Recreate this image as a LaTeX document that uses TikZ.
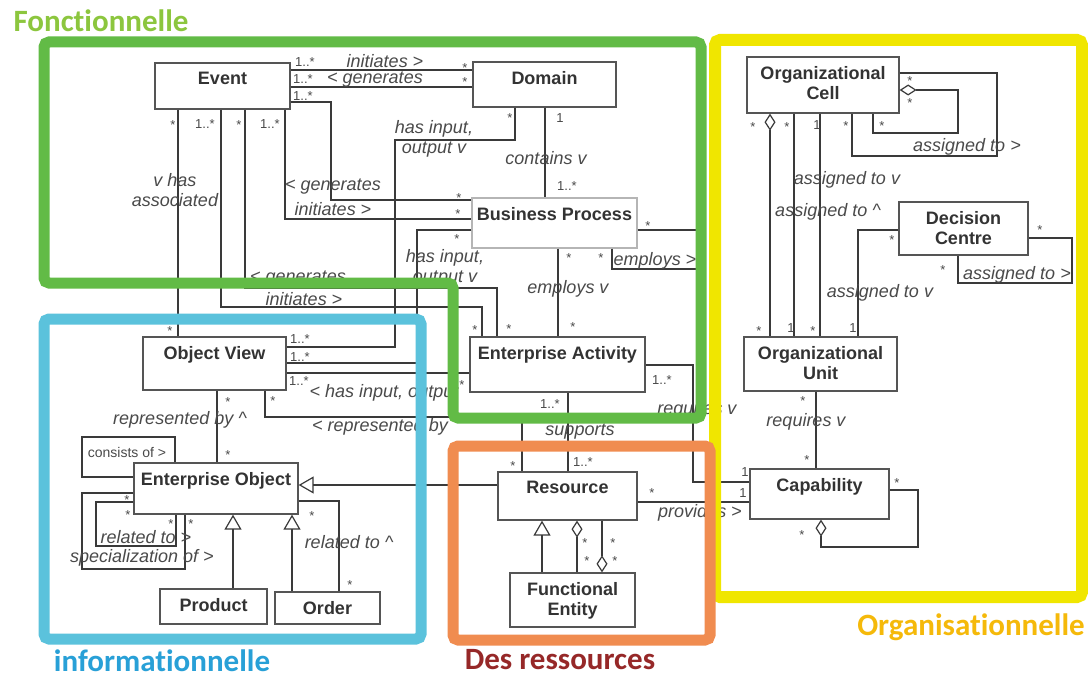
\documentclass[tikz,border=0pt]{standalone}
\usepackage{fontspec}
\setmainfont{Liberation Sans}
\newfontfamily\titlefont{Carlito}[Ligatures=NoCommon]
\usetikzlibrary{arrows.meta}
\definecolor{lc}{HTML}{3A3A3A}
\definecolor{bc}{HTML}{555555}
\definecolor{bcl}{HTML}{B5B5B5}
\definecolor{tc}{HTML}{333333}
\definecolor{ic}{HTML}{4A4A4A}
\definecolor{fgreen}{RGB}{98,187,70}
\definecolor{fblue}{RGB}{91,194,220}
\definecolor{forange}{RGB}{240,140,80}
\definecolor{fyellow}{RGB}{240,230,0}
\definecolor{tgreen}{RGB}{140,198,62}
\definecolor{tblue}{RGB}{40,160,215}
\definecolor{tred}{RGB}{150,40,40}
\definecolor{tyellow}{RGB}{245,185,10}
\newcount\labno
\newcommand\mlt[2]{\global\advance\labno by 1 \node[mult] (m\the\labno) at (#1) {#2};}
\newcommand\mst[1]{\global\advance\labno by 1 \node[mult, yshift=-3pt] (m\the\labno) at (#1) {*};}
\newcommand\lbl[2]{\global\advance\labno by 1 \node[lab] (l\the\labno) at (#1) {#2};}
\newcommand\ubox[5]{\node[box, minimum width=#3pt, minimum height=#4pt, label={[bt]north:#5}] (#1) at (#2) {};}
\begin{document}
\begin{tikzpicture}[x=1pt,y=-1pt,
 box/.style={draw=bc, line width=1.3pt, fill=white, inner sep=0pt, rectangle},
 bt/.style={font=\fontsize{18}{20}\selectfont\bfseries, text=tc, align=center, inner sep=0pt, anchor=north, yshift=-10pt},
 conn/.style={draw=lc, line width=1.2pt},
 lab/.style={font=\fontsize{18}{19.5}\selectfont\itshape, text=ic, inner sep=0pt, align=center},
 mult/.style={font=\fontsize{13}{15}\selectfont, text=ic, inner sep=0pt},
 gen/.style={conn, -{Triangle[open, length=15pt, width=17pt]}},
 agg/.style={conn, -{Diamond[open, length=17pt, width=11pt]}},
 frame/.style={line width=11pt, rounded corners=5pt},
 ttl/.style={font=\titlefont\fontsize{31}{34}\selectfont\bfseries, inner sep=0pt, anchor=base}]
\useasboundingbox[fill=white] (0,0) rectangle (1088,677);

% ---------- boxes
\ubox{event}{222.5,86}{135}{46}{Event}
\ubox{domain}{544.5,84.5}{143}{45}{Domain}
\node[box, draw=bcl, minimum width=165pt, minimum height=50pt, label={[bt]north:Business Process}] (bp) at (554.5,223) {};
\ubox{oc}{823,85}{152}{56}{Organizational\\Cell}
\ubox{dc}{963.5,228.5}{129}{53}{Decision\\Centre}
\ubox{ou}{820.5,364}{153}{54}{Organizational\\Unit}
\ubox{cap}{819.5,494}{139}{50}{Capability}
\ubox{ea}{557.5,364.5}{175}{55}{Enterprise Activity}
\ubox{ov}{214.5,363.5}{143}{53}{Object View}
\ubox{eo}{216,488.5}{164}{51}{Enterprise Object}
\ubox{product}{213.5,606.5}{107}{35}{Product}
\ubox{order}{327.5,608}{105}{32}{Order}
\ubox{resource}{567.5,496}{139}{48}{Resource}
\ubox{fe}{572.5,600}{125}{54}{Functional\\Entity}
\coordinate (bpR1) at (700,230);
\coordinate (bpR2) at (700,269);

% ---------- connectors
\draw[conn] (event.east |- 0,70) -- (domain.west |- 0,70);
\draw[conn] (event.east |- 0,87) -- (domain.west |- 0,87);
\draw[conn] (event.east |- 0,102) -- (331,102) -- (331,200) -- (bp.west |- 0,200);
\draw[conn] (event.south -| 285,0) -- (285,219) -- (bp.west |- 0,219);
\draw[conn] (event.south -| 178,0) -- (ov.north -| 178,0);
\draw[conn] (event.south -| 221,0) -- (221,307) -- (482,307) -- (ea.north -| 482,0);
\draw[conn] (event.south -| 245,0) -- (245,288) -- (497,288) -- (ea.north -| 497,0);
\draw[conn] (domain.south -| 545,0) -- (bp.north -| 545,0);
\draw[conn] (domain.south -| 515,0) -- (515,140) -- (395,140) -- (395,347) -- (ov.east |- 0,347);
\draw[conn] (bp.west |- 0,230) -- (417,230) -- (417,363) -- (ov.east |- 0,363);
\draw[conn] (bp.south -| 558,0) -- (ea.north -| 558,0);
\draw[conn] (bp.east |- 0,230) -- (bpR1);
\draw[conn] (bp.south -| 612,0) -- (612,269) -- (bpR2);
\draw[conn] (ov.east |- 0,373) -- (ea.west |- 0,373);
\draw[conn] (ov.south -| 265,0) -- (265,417) -- (522,417) -- (resource.north -| 522,0);
\draw[conn] (ov.south -| 217,0) -- (eo.north -| 217,0);
\draw[conn] (ea.east |- 0,365) -- (693,365) -- (693,482) -- (cap.west |- 0,482);
\draw[conn] (ea.south -| 568,0) -- (resource.north -| 568,0);
\draw[conn] (resource.east |- 0,502) -- (cap.west |- 0,502);
\draw[gen] (resource.west |- 0,485) -- (eo.east |- 0,485);
\draw[gen] (fe.north -| 542,0) -- (resource.south -| 542,0);
\draw[agg] (fe.north -| 577,0) -- (resource.south -| 577,0);
\draw[agg] (resource.south -| 602,0) -- (fe.north -| 602,0);
\draw[gen] (product.north -| 233,0) -- (eo.south -| 233,0);
\draw[gen] (order.north -| 292,0) -- (eo.south -| 292,0);
\draw[conn] (order.north -| 339,0) -- (339,501) -- (eo.east |- 0,501);
\draw[conn] (eo.north -| 175,0) -- (175,437) -- (82,437) -- (82,477) -- (eo.west |- 0,477);
\draw[conn] (eo.west |- 0,493) -- (82,493) -- (82,569) -- (185,569) -- (eo.south -| 185,0);
\draw[conn] (eo.west |- 0,502) -- (96,502) -- (96,546) -- (176,546) -- (eo.south -| 176,0);
\draw[conn] (oc.east |- 0,73) -- (997,73) -- (997,156) -- (852,156) -- (oc.south -| 852,0);
\draw[agg] (oc.south -| 873,0) -- (873,133) -- (958,133) -- (958,90) -- (oc.east |- 0,90);
\draw[agg] (ou.north -| 770,0) -- (oc.south -| 770,0);
\draw[conn] (oc.south -| 794,0) -- (ou.north -| 794,0);
\draw[conn] (oc.south -| 820,0) -- (ou.north -| 820,0);
\draw[conn] (dc.west |- 0,230) -- (858,230) -- (ou.north -| 858,0);
\draw[conn] (dc.east |- 0,238) -- (1072,238) -- (1072,283) -- (958,283) -- (dc.south -| 958,0);
\draw[conn] (ou.south -| 816,0) -- (cap.north -| 816,0);
\draw[agg] (cap.east |- 0,490) -- (918,490) -- (918,547) -- (821,547) -- (cap.south -| 821,0);

% ---------- association labels
\lbl{385,61}{initiates >}
\lbl{375,80}{< generates}
\lbl{434,139}{has input,\\output v}
\lbl{546,158}{contains v}
\lbl{333,187}{< generates}
\lbl{333,209}{initiates >}
\lbl{445,268}{has input,\\output v}
\lbl{298,279}{< generates}
\lbl{304,299}{initiates >}
\lbl{175,190}{v has\\associated}
\lbl{568,289}{employs v}
\lbl{655,261}{employs >}
\lbl{697,410}{requires v}
\lbl{580,432}{supports}
\lbl{700,513}{provides >}
\lbl{806,422}{requires v}
\lbl{967,147}{assigned to >}
\lbl{847,180}{assigned to v}
\lbl{828,212}{assigned to \textasciicircum}
\lbl{880,293}{assigned to v}
\lbl{1017,275}{assigned to >}
\lbl{384,393}{< has input, output}
\lbl{380,427}{< represented by}
\lbl{180,420}{represented by \textasciicircum}
\lbl{146,537}{related to >}
\lbl{142,558}{specialization of >}
\lbl{349,542}{related to \textasciicircum}
\node[mult, font=\fontsize{14}{16}\selectfont] (cons) at (127,452) {consists of >};

% ---------- multiplicities
\mlt{305,62}{1..*}\mlt{303,79}{1..*}\mlt{303,96}{1..*}
\mst{465,65}\mst{465,79}
\mst{510,115}\mlt{560,118}{1}\mlt{567,186}{1..*}
\mst{459,195}\mst{458,211}\mst{457,236}
\mst{173,122}\mlt{205,124}{1..*}\mst{239,122}\mlt{270,124}{1..*}
\mst{648,223}\mst{569,255}\mst{601,255}
\mst{475,327}\mst{509,326}\mst{573,324}
\mst{170,328}
\mlt{300,339}{1..*}\mlt{300,357}{1..*}\mlt{299,381}{1..*}
\mst{462,382}\mlt{662,380}{1..*}\mlt{550,404}{1..*}
\mst{273,398}\mst{228,399}\mst{228,452}
\mlt{583,462}{1..*}\mst{513,463}
\mst{652,490}\mlt{745,472}{1}\mlt{743,493}{1}
\mst{585,540}\mst{587,558}\mst{613,540}\mst{615,558}
\mst{127,497}\mst{128,512}\mst{171,521}\mst{191,521}
\mst{312,513}\mst{350,582}
\mst{897,480}\mst{802,532}
\mst{803,398}\mst{807,457}
\mst{753,124}\mst{787,124}\mlt{817,125}{1}\mst{846,123}\mst{882,123}\mst{910,78}\mst{910,100}
\mst{892,237}\mst{1040,227}\mst{943,267}
\mst{759,328}\mlt{791,328}{1}\mst{813,328}\mlt{853,328}{1}

% ---------- coloured frames
\draw[frame, draw=fyellow, line width=12pt] (715,40) rectangle (1082,597);
\draw[frame, draw=fgreen] (44,283) -- (44,42) -- (701,42) -- (701,418) -- (453,418) -- (453,283) -- cycle;
\draw[frame, draw=fblue] (44,319) rectangle (421,639);
\draw[frame, draw=forange] (453,446) rectangle (710,640);

% ---------- titles
\node[ttl, text=tgreen] (tF) at (101,32) {Fonctionnelle};
\node[ttl, text=tblue] (tI) at (162,671) {informationnelle};
\node[ttl, text=tred] (tR) at (560,669) {Des ressources};
\node[ttl, text=tyellow] (tO) at (971,635) {Organisationnelle};
\end{tikzpicture}
\end{document}
